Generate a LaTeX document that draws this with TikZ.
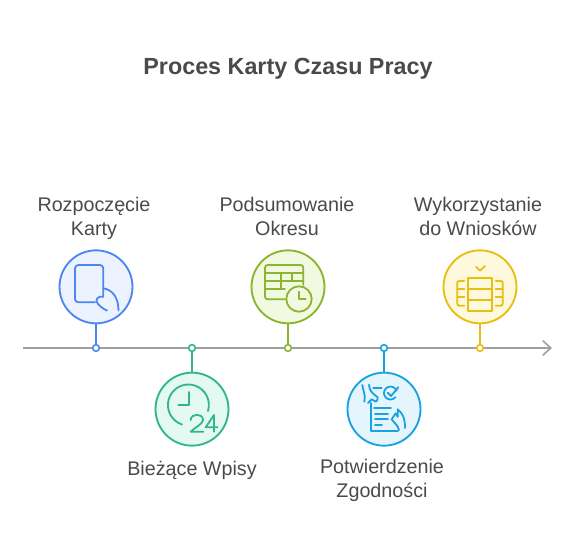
\documentclass[tikz,border=0pt]{standalone}
\usepackage{fontspec}
\setmainfont{Liberation Sans}
\usetikzlibrary{arrows.meta,positioning}

\definecolor{bluefg}{HTML}{4C86F0}
\definecolor{bluebg}{HTML}{EDF3FE}
\definecolor{greenfg}{HTML}{2FB886}
\definecolor{greenbg}{HTML}{E3F9F1}
\definecolor{olivefg}{HTML}{8AB52F}
\definecolor{olivebg}{HTML}{F2F9E1}
\definecolor{cyanfg}{HTML}{18A2E0}
\definecolor{cyanbg}{HTML}{E5F5FE}
\definecolor{yellowfg}{HTML}{E8BE12}
\definecolor{yellowbg}{HTML}{FEF8DC}
\definecolor{inkgray}{HTML}{4A4A4A}

\begin{document}
\begin{tikzpicture}[
  x=0.75pt, y=-0.75pt,
  node distance=16pt,
  disc/.style n args={2}{circle, draw=#1, fill=#2, line width=1.4pt, minimum size=54.75pt, inner sep=0pt, outer sep=0pt},
  dot/.style={circle, draw=#1, fill=white, line width=1.2pt, minimum size=5pt, inner sep=0pt, outer sep=0pt},
  stem/.style={line width=1.5pt},
  axis/.style={-{Straight Barb[length=6pt,width=11pt,line width=1.2pt]}, draw=gray!75, line width=1.4pt},
  icon/.style={line width=1.35pt, line cap=round, line join=round},
  caption/.style={align=center, text=inkgray, font=\fontsize{14.8}{18}\selectfont, inner sep=0pt, execute at begin node=\strut, execute at end node=\strut}
]
\useasboundingbox (0,0) rectangle (576,552);

%% Title
\node[font=\fontsize{17.5}{22}\selectfont\bfseries, text=inkgray] (title) at (288,68.5) {Proces Karty Czasu Pracy};

%% Axis
\coordinate (start) at (23,348);
\coordinate (end) at (552,348);
\draw[axis] (start) -- (end);

%% Dots
\node[dot=bluefg] (dotA) at (96,348) {};
\node[dot=greenfg] (dotB) at (192,348) {};
\node[dot=olivefg] (dotC) at (288,348) {};
\node[dot=cyanfg] (dotD) at (384,348) {};
\node[dot=yellowfg] (dotE) at (480,348) {};

%% Circles
\node[disc={bluefg}{bluebg}, above=of dotA] (start card) {};
\node[disc={greenfg}{greenbg}, below=of dotB] (entries) {};
\node[disc={olivefg}{olivebg}, above=of dotC] (summary) {};
\node[disc={cyanfg}{cyanbg}, below=of dotD] (confirm) {};
\node[disc={yellowfg}{yellowbg}, above=of dotE] (usage) {};

%% Stems
\draw[stem, bluefg] (dotA) -- (start card);
\draw[stem, greenfg] (dotB) -- (entries);
\draw[stem, olivefg] (dotC) -- (summary);
\draw[stem, cyanfg] (dotD) -- (confirm);
\draw[stem, yellowfg] (dotE) -- (usage);

%% Labels
\node[caption, above=5.5pt of start card, xshift=-1.5pt] {Rozpoczęcie\\Karty};
\node[caption, below=9.6pt of entries] {Bieżące Wpisy};
\node[caption, above=5.5pt of summary, xshift=-0.75pt] {Podsumowanie\\Okresu};
\node[caption, below=9.6pt of confirm, xshift=-1.5pt] {Potwierdzenie\\Zgodności};
\node[caption, above=5.5pt of usage, xshift=-1.5pt] {Wykorzystanie\\do Wniosków};

%% Icon: card in hand
\draw[icon, bluefg, rounded corners=2.5pt] (103.3,296.7) -- (103.3,265) -- (75,265) -- (75,302.3) -- (95,302.3);
\draw[icon, bluefg] (103.3,288.3) .. controls (113,290) and (118.5,298) .. (118.5,310.5);
\draw[icon, bluefg] (103.3,296.7) .. controls (98,295.5) and (94,300) .. (98,304) .. controls (100,306) and (103,309) .. (107,310.5);

%% Icon: clock with 24
\draw[icon, greenfg] (208,411) arc (17:-252:20.5);
\draw[icon, greenfg] (189.3,392) -- (189.3,405) -- (178.3,405);
\draw[icon, greenfg] (190.7,420) .. controls (191,413) and (203,413) .. (203,420) .. controls (203,424) and (194,428) .. (190.7,431.7) -- (203.3,431.7);
\draw[icon, greenfg] (214,431.7) -- (214,415) -- (205.7,427.3) -- (217.5,427.3);

%% Icon: table with clock
\draw[icon, olivefg, rounded corners=2pt] (285,299.3) -- (265,299.3) -- (265,265) -- (303.3,265) -- (303.3,285);
\draw[icon, olivefg] (265,272.7) -- (303.3,272.7);
\draw[icon, olivefg] (265,280.7) -- (303.3,280.7);
\draw[icon, olivefg] (265,289.3) -- (285,289.3);
\draw[icon, olivefg] (280.7,272.7) -- (280.7,289.3);
\draw[icon, olivefg] (291.7,272.7) -- (291.7,280.7);
\draw[icon, olivefg] (299,299) circle (12.7);
\draw[icon, olivefg] (299,291.7) -- (299,299) -- (305.7,299);

%% Icon: document with check and hands
\draw[icon, cyanfg] (371,403) -- (371,431) -- (398,431);
\draw[icon, cyanfg] (374,408) -- (391,408);
\draw[icon, cyanfg] (375,413.7) -- (388,413.7);
\draw[icon, cyanfg] (375,419) -- (388,419);
\draw[icon, cyanfg] (375,425) -- (382,425);
\draw[icon, cyanfg] (373.3,388.3) -- (381.7,388.3);
\draw[icon, cyanfg] (396.6,390.8) arc (-20:-320:6.5);
\draw[icon, cyanfg] (387.7,392.7) -- (391,396) -- (398.3,387.3);
\draw[icon, cyanfg] (362.3,385) .. controls (363,391) and (366,395) .. (364.3,401.7);
\draw[icon, cyanfg] (369,384.7) .. controls (369.5,391) and (372,393) .. (377.7,397.3) .. controls (378,400) and (377,401) .. (375.7,401.7) -- (371.7,399.3) -- (368,403);
\draw[icon, cyanfg] (405,428) .. controls (405,418) and (403,414) .. (397.7,409.3) -- (397.7,416.7);
\draw[icon, cyanfg] (397.7,416.7) -- (395.7,413.3) -- (391.7,419.3) .. controls (394,423) and (398,425) .. (399,430);

%% Icon: rows with check
\draw[icon, yellowfg] (476,266.7) -- (480,270.7) -- (485,266);
\draw[icon, yellowfg] (467.7,277.7) rectangle (492.3,310.7);
\draw[icon, yellowfg] (467.7,289) -- (492.3,289);
\draw[icon, yellowfg] (467.7,300) -- (492.3,300);
\draw[icon, yellowfg, rounded corners=1.5pt] (464.3,281) -- (457.3,281) -- (457.3,305.7) -- (464.3,305.7);
\draw[icon, yellowfg] (457.3,289.3) -- (464.3,289.3);
\draw[icon, yellowfg] (457.3,297.3) -- (464.3,297.3);
\draw[icon, yellowfg, rounded corners=1.5pt] (495.7,281) -- (502.7,281) -- (502.7,305.7) -- (495.7,305.7);
\draw[icon, yellowfg] (495.7,289.3) -- (502.7,289.3);
\draw[icon, yellowfg] (495.7,297.3) -- (502.7,297.3);
\end{tikzpicture}
\end{document}
